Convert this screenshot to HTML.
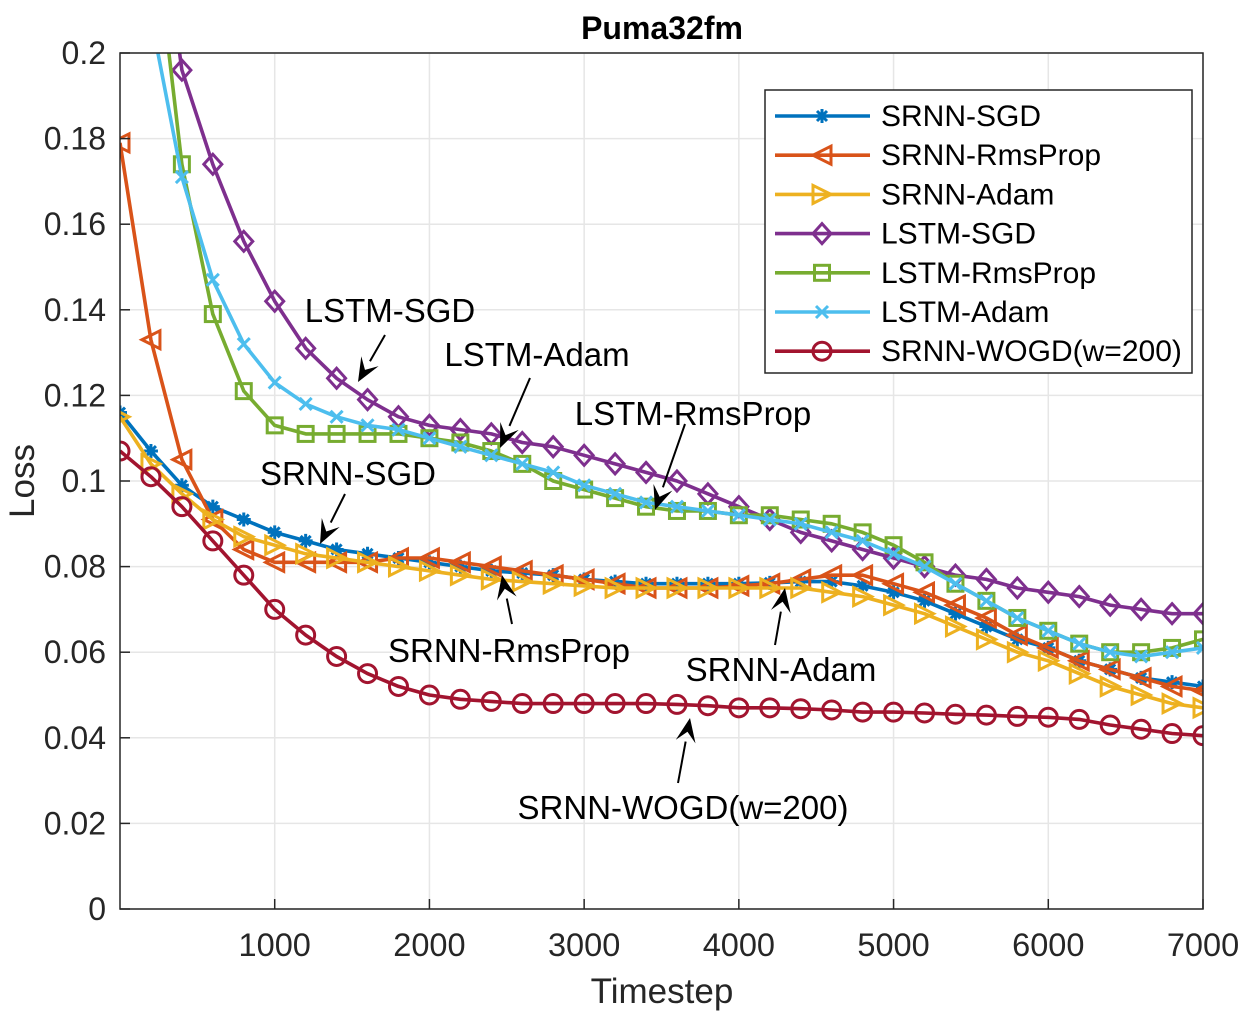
<!DOCTYPE html>
<html><head><meta charset="utf-8"><style>
body{margin:0;background:#fff;}
svg text{font-family:"Liberation Sans",sans-serif;}
</style></head><body>
<svg id="chart" width="1250" height="1017" viewBox="0 0 1250 1017" xmlns="http://www.w3.org/2000/svg">
<defs><clipPath id="plotclip"><rect x="120" y="53" width="1083" height="856"/></clipPath></defs>
<rect x="0" y="0" width="1250" height="1017" fill="#fff"/>
<g id="grid"></g>
<g id="series" clip-path="url(#plotclip)"></g>
<g id="axes"></g>
<g id="annot"></g>
<g id="legend"></g>
</svg>
<script>
const steps = [0,200,400,600,800,1000,1200,1400,1600,1800,2000,2200,2400,2600,2800,3000,3200,3400,3600,3800,4000,4200,4400,4600,4800,5000,5200,5400,5600,5800,6000,6200,6400,6600,6800,7000];
const srnnSgd = [0.116,0.107,0.099,0.094,0.091,0.088,0.086,0.084,0.083,0.082,0.081,0.080,0.079,0.0785,0.078,0.077,0.0765,0.076,0.076,0.076,0.076,0.0762,0.0765,0.0765,0.0755,0.074,0.072,0.069,0.066,0.063,0.061,0.058,0.056,0.054,0.053,0.052];
const srnnRms = [0.179,0.133,0.105,0.091,0.084,0.081,0.081,0.081,0.081,0.082,0.082,0.081,0.080,0.079,0.078,0.077,0.076,0.075,0.075,0.075,0.0755,0.076,0.077,0.078,0.078,0.076,0.074,0.071,0.068,0.064,0.061,0.058,0.056,0.054,0.052,0.051];
const srnnAdam = [0.115,0.104,0.097,0.091,0.087,0.085,0.083,0.082,0.081,0.080,0.079,0.078,0.077,0.0765,0.076,0.0755,0.075,0.075,0.075,0.075,0.075,0.075,0.075,0.074,0.073,0.071,0.069,0.066,0.063,0.060,0.058,0.055,0.052,0.050,0.048,0.047];
const lstmSgd = [0.29,0.25,0.196,0.174,0.156,0.142,0.131,0.124,0.119,0.115,0.113,0.112,0.111,0.109,0.108,0.106,0.104,0.102,0.100,0.097,0.094,0.091,0.088,0.086,0.084,0.082,0.080,0.078,0.077,0.075,0.074,0.073,0.071,0.070,0.069,0.069];
const lstmRms = [0.30,0.236,0.174,0.139,0.121,0.113,0.111,0.111,0.111,0.111,0.110,0.109,0.107,0.104,0.100,0.098,0.096,0.094,0.093,0.093,0.092,0.092,0.091,0.090,0.088,0.085,0.081,0.076,0.072,0.068,0.065,0.062,0.060,0.060,0.061,0.063];
const lstmAdam = [0.27,0.2085,0.171,0.147,0.132,0.123,0.118,0.115,0.113,0.112,0.110,0.108,0.106,0.104,0.102,0.099,0.097,0.095,0.094,0.093,0.092,0.091,0.090,0.088,0.086,0.083,0.080,0.076,0.072,0.068,0.065,0.062,0.060,0.059,0.060,0.061];
const srnnWogd = [0.107,0.101,0.094,0.086,0.078,0.070,0.064,0.059,0.055,0.052,0.050,0.049,0.0485,0.048,0.048,0.048,0.048,0.048,0.0478,0.0475,0.047,0.047,0.0468,0.0465,0.046,0.046,0.0458,0.0455,0.0453,0.045,0.0448,0.0443,0.043,0.042,0.041,0.0405];
const seriesNames = ["SRNN-SGD","SRNN-RmsProp","SRNN-Adam","LSTM-SGD","LSTM-RmsProp","LSTM-Adam","SRNN-WOGD(w=200)"];
const xTicks = [1000,2000,3000,4000,5000,6000,7000];
const yTicks = [0,0.02,0.04,0.06,0.08,0.1,0.12,0.14,0.16,0.18,0.2];
const yTickLabels = ["0","0.02","0.04","0.06","0.08","0.1","0.12","0.14","0.16","0.18","0.2"];

const NS="http://www.w3.org/2000/svg";
const L=120,R=1203,T=53,B=909;
function xs(v){return L+(v/7000)*(R-L);}
function ys(v){return B-(v/0.2)*(B-T);}
function mk(tag,attrs,parent){const e=document.createElementNS(NS,tag);for(const k in attrs)e.setAttribute(k,attrs[k]);parent.appendChild(e);return e;}
const grid=document.getElementById('grid'),axes=document.getElementById('axes'),ser=document.getElementById('series'),ann=document.getElementById('annot'),leg=document.getElementById('legend');

xTicks.forEach(t=>{const g=mk('line',{x1:xs(t),x2:xs(t),y1:T,y2:B,stroke:'#e6e6e6','stroke-width':1.5},grid);

});
yTicks.forEach(t=>{const g=mk('line',{x1:L,x2:R,y1:ys(t),y2:ys(t),stroke:'#e6e6e6','stroke-width':1.5},grid);

});

const colors=["#0072BD","#D95319","#EDB120","#7E2F8E","#77AC30","#4DBEEE","#A2142F"];
const markers=["star","left","right","diamond","square","x","circle"];
const data=[srnnSgd,srnnRms,srnnAdam,lstmSgd,lstmRms,lstmAdam,srnnWogd];

function drawMarker(type,x,y,c,parent){
  const s=9;let e;
  const st={fill:'none',stroke:c,'stroke-width':3};
  if(type==='circle'){e=mk('circle',Object.assign({cx:x,cy:y,r:s},st),parent);}
  else if(type==='square'){e=mk('rect',Object.assign({x:x-7.5,y:y-7.5,width:15,height:15},st),parent);}
  else if(type==='diamond'){e=mk('polygon',Object.assign({points:`${x},${y-s-1} ${x+s},${y} ${x},${y+s+1} ${x-s},${y}`},st),parent);}
  else if(type==='left'){e=mk('polygon',Object.assign({points:`${x-s},${y} ${x+s},${y-s} ${x+s},${y+s}`},st),parent);}
  else if(type==='right'){e=mk('polygon',Object.assign({points:`${x+s},${y} ${x-s},${y-s} ${x-s},${y+s}`},st),parent);}
  else if(type==='x'){e=mk('path',Object.assign({d:`M${x-6},${y-6}L${x+6},${y+6}M${x-6},${y+6}L${x+6},${y-6}`},st),parent);}
  else {e=mk('path',Object.assign({d:`M${x-7},${y}L${x+7},${y}M${x},${y-7}L${x},${y+7}M${x-5},${y-5}L${x+5},${y+5}M${x-5},${y+5}L${x+5},${y-5}`},st),parent);}
  return e;
}

data.forEach((arr,i)=>{
  const g=mk('g',{},ser);
  
  
  const d=arr.map((v,j)=>(j?'L':'M')+xs(steps[j]).toFixed(1)+','+ys(v).toFixed(1)).join('');
  const p=mk('path',{d:d,fill:'none',stroke:colors[i],'stroke-width':3.6,'stroke-linejoin':'round'},g);
  
  
  arr.forEach((v,j)=>{const m=drawMarker(markers[i],xs(steps[j]),ys(v),colors[i],g);
    
    });
});

const box=mk('rect',{x:L,y:T,width:R-L,height:B-T,fill:'none',stroke:'#262626','stroke-width':1.5},axes);


xTicks.forEach(t=>{
  const tk=mk('line',{x1:xs(t),x2:xs(t),y1:B,y2:B-10,stroke:'#262626','stroke-width':1.5},axes);
  
  
  const tx=mk('text',{x:xs(t),y:956,'font-size':32.5,'text-anchor':'middle',fill:'#262626'},axes);tx.textContent=t;
  
  
});
yTicks.forEach((t,i)=>{
  const tk=mk('line',{x1:L,x2:L+10,y1:ys(t),y2:ys(t),stroke:'#262626','stroke-width':1.5},axes);
  
  
  const tx=mk('text',{x:106,y:ys(t)+11,'font-size':32,'text-anchor':'end',fill:'#262626'},axes);tx.textContent=yTickLabels[i];
  
  
});
let t1=mk('text',{x:662,y:39,'font-size':32,'font-weight':'bold','text-anchor':'middle',fill:'#000'},axes);t1.textContent='Puma32fm';


let t2=mk('text',{x:662,y:1003,'font-size':35,'text-anchor':'middle',fill:'#262626'},axes);t2.textContent='Timestep';


let t3=mk('text',{x:34,y:481,'font-size':35,'text-anchor':'middle',fill:'#262626',transform:'rotate(-90 34 481)'},axes);t3.textContent='Loss';



const notes=[["LSTM-SGD",390,322,385,335,358,382],["LSTM-Adam",537,366,530,378,500,448],["LSTM-RmsProp",693,425,685,424,655,510],["SRNN-SGD",348,485,345,494,320,544],["SRNN-RmsProp",509,662,512,624,502,575],["SRNN-Adam",781,681,775,645,785,588],["SRNN-WOGD(w=200)",683,819,678,783,690,718]];
notes.forEach(n=>{
  const g=mk('g',{},ann);
  
  
  const tx=mk('text',{x:n[1],y:n[2],'font-size':33,'text-anchor':'middle',fill:'#000'},g);tx.textContent=n[0];
  const [x1,y1,x2,y2]=[n[3],n[4],n[5],n[6]];
  const dx=x2-x1,dy=y2-y1,len=Math.hypot(dx,dy),ux=dx/len,uy=dy/len;
  const bx=x2-ux*24,by=y2-uy*24;
  mk('line',{x1:x1,y1:y1,x2:bx,y2:by,stroke:'#000','stroke-width':2},g);
  mk('polygon',{points:`${x2},${y2} ${bx-uy*10},${by+ux*10} ${x2-ux*14},${y2-uy*14} ${bx+uy*10},${by-ux*10}`,fill:'#000'},g);
});

const lb=mk('rect',{x:765,y:90,width:427,height:283,fill:'#fff',stroke:'#262626','stroke-width':1.5},leg);


seriesNames.forEach((nm,i)=>{
  const y=116+i*39.2;
  const g=mk('g',{},leg);
  
  
  mk('line',{x1:775,x2:870,y1:y,y2:y,stroke:colors[i],'stroke-width':3.6},g);
  drawMarker(markers[i],822,y,colors[i],g);
  const tx=mk('text',{x:881,y:y+10,'font-size':30,fill:'#000'},g);tx.textContent=nm;
});
</script>
</body></html>
